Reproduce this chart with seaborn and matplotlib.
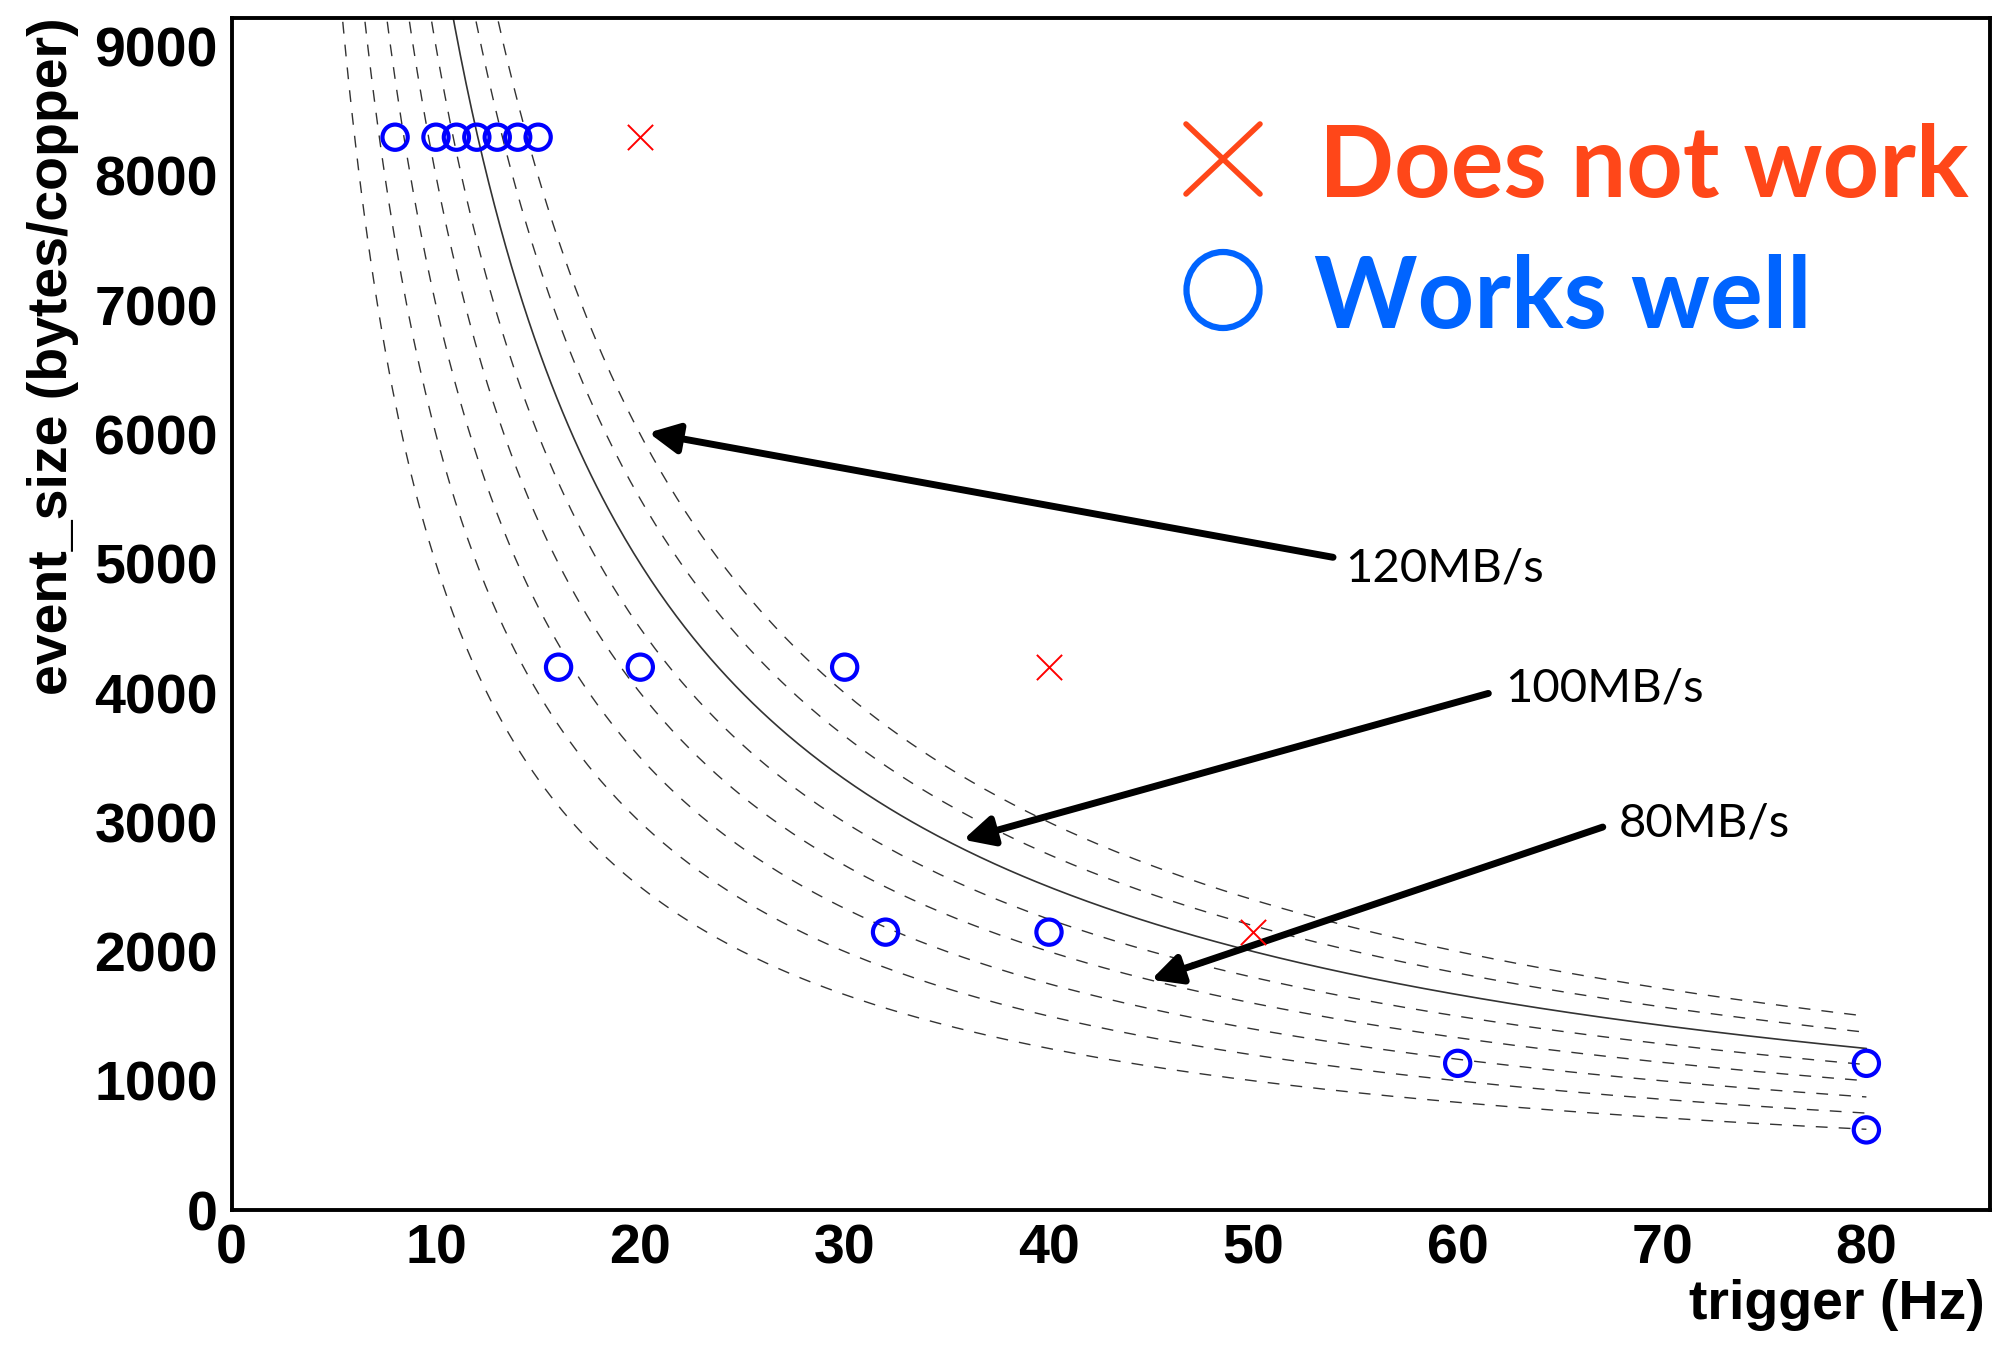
import numpy as np
import pandas as pd
import matplotlib
matplotlib.use("Agg")
import matplotlib.pyplot as plt
from matplotlib.lines import Line2D
from matplotlib.patches import Ellipse
import seaborn as sns

# measured points
works_x = [8, 10, 11, 12, 13, 14, 15, 16, 20, 30, 32, 40, 60, 80, 80]
works_y = [8300, 8300, 8300, 8300, 8300, 8300, 8300, 4200, 4200, 4200, 2150, 2150, 1135, 1135, 620]
fail_x = [20, 40, 50]
fail_y = [8300, 4200, 2150]

# constant-throughput curves: event_size = C / trigger
curve_c = [50000, 60000, 70000, 80000, 90000, 100000, 110000, 120000]
solid_c = 100000

# arrow labels: text, arrow tail, arrow tip, text position
ann_text = ["120MB/s", "100MB/s", "80MB/s"]
ann_tail = [(53.9, 5050), (61.5, 3997), (67.1, 2963)]
ann_tip = [(20.4, 6014), (35.8, 2865), (45.0, 1782)]
ann_pos = [(54.5, 4960), (62.3, 4035), (67.9, 2990)]

sns.set_style("white")
plt.rcParams["font.family"] = ["Liberation Sans", "DejaVu Sans"]
plt.rcParams["text.color"] = "black"
plt.rcParams["axes.labelcolor"] = "black"

fig = plt.figure(figsize=(19.95, 13.46), dpi=100)
ax = fig.add_axes([0.1161, 0.1010, 0.9975 - 0.1161, 0.9868 - 0.1010])

for c in curve_c:
    xs = np.linspace(c / 9400, 80, 500)
    df = pd.DataFrame({"x": xs, "y": c / xs})
    if c == solid_c:
        sns.lineplot(data=df, x="x", y="y", ax=ax, color="#333333", lw=1.2, sort=False)
    else:
        sns.lineplot(data=df, x="x", y="y", ax=ax, color="#333333", lw=1.0,
                     linestyle=(0, (8.5, 8)), sort=False)

sns.scatterplot(x=works_x, y=works_y, ax=ax, marker="o", s=330,
                facecolor="none", edgecolor="#0000FF", linewidth=3.0, zorder=5)
sns.scatterplot(x=fail_x, y=fail_y, ax=ax, marker="x", s=330,
                color="#FF0000", linewidth=1.4, zorder=5)

for txt, tail, tip, pos in zip(ann_text, ann_tail, ann_tip, ann_pos):
    ax.annotate("", xy=tip, xytext=tail,
                arrowprops=dict(arrowstyle="-|>", color="black", lw=5,
                                mutation_scale=45, shrinkA=0, shrinkB=0))
    ax.text(pos[0], pos[1], txt, fontsize=34, family="Lato", va="center", ha="left")

ax.set_xlim(0, 86.05)
ax.set_ylim(0, 9224)
ax.set_xticks(range(0, 81, 10))
ax.set_xticks(range(0, 87, 2), minor=True)
ax.set_yticks(range(0, 9001, 1000))
ax.set_yticks(range(0, 9201, 200), minor=True)
for lab in ax.get_xticklabels() + ax.get_yticklabels():
    lab.set_fontweight("bold")
ax.tick_params(axis="both", which="both", direction="in", width=2.2, labelsize=40,
               color="black", labelcolor="black", top=False, right=False)
ax.tick_params(axis="y", which="major", length=37, pad=10)
ax.tick_params(axis="y", which="minor", length=19.5)
ax.tick_params(axis="x", which="major", length=26, pad=10)
ax.tick_params(axis="x", which="minor", length=13)
for sp in ax.spines.values():
    sp.set_linewidth(2.8)
    sp.set_color("black")

ax.set_xlabel("trigger (Hz)", fontsize=40, fontweight="bold", loc="right")
ax.set_ylabel("event_size (bytes/copper)", fontsize=40, fontweight="bold", loc="top")
ax.xaxis.set_label_coords(0.9972, -0.058)
ax.yaxis.set_label_coords(-0.087, 1.0)

# legend drawn by hand
red = "#FF4719"
blue = "#0064FF"
W, H = 1995.0, 1346.0
cx, cy = 1223.0, 159.0
fig.add_artist(Line2D([(cx - 37) / W, (cx + 37) / W], [1 - (cy - 35) / H, 1 - (cy + 35) / H],
                      color=red, lw=4.0, transform=fig.transFigure))
fig.add_artist(Line2D([(cx - 37) / W, (cx + 37) / W], [1 - (cy + 35) / H, 1 - (cy - 35) / H],
                      color=red, lw=4.0, transform=fig.transFigure))
fig.add_artist(Ellipse((1223.0 / W, 1 - 290.0 / H), 73 / W, 76 / H, fill=False,
                       edgecolor=blue, lw=4.5, transform=fig.transFigure))
fig.text(1319 / W, 1 - 197 / H, "Does not work", color=red, fontsize=71,
         fontweight="bold", family="Lato", va="baseline")
fig.text(1314 / W, 1 - 328 / H, "Works well", color=blue, fontsize=71,
         fontweight="bold", family="Lato", va="baseline")

fig.savefig("out.png", dpi=100)
